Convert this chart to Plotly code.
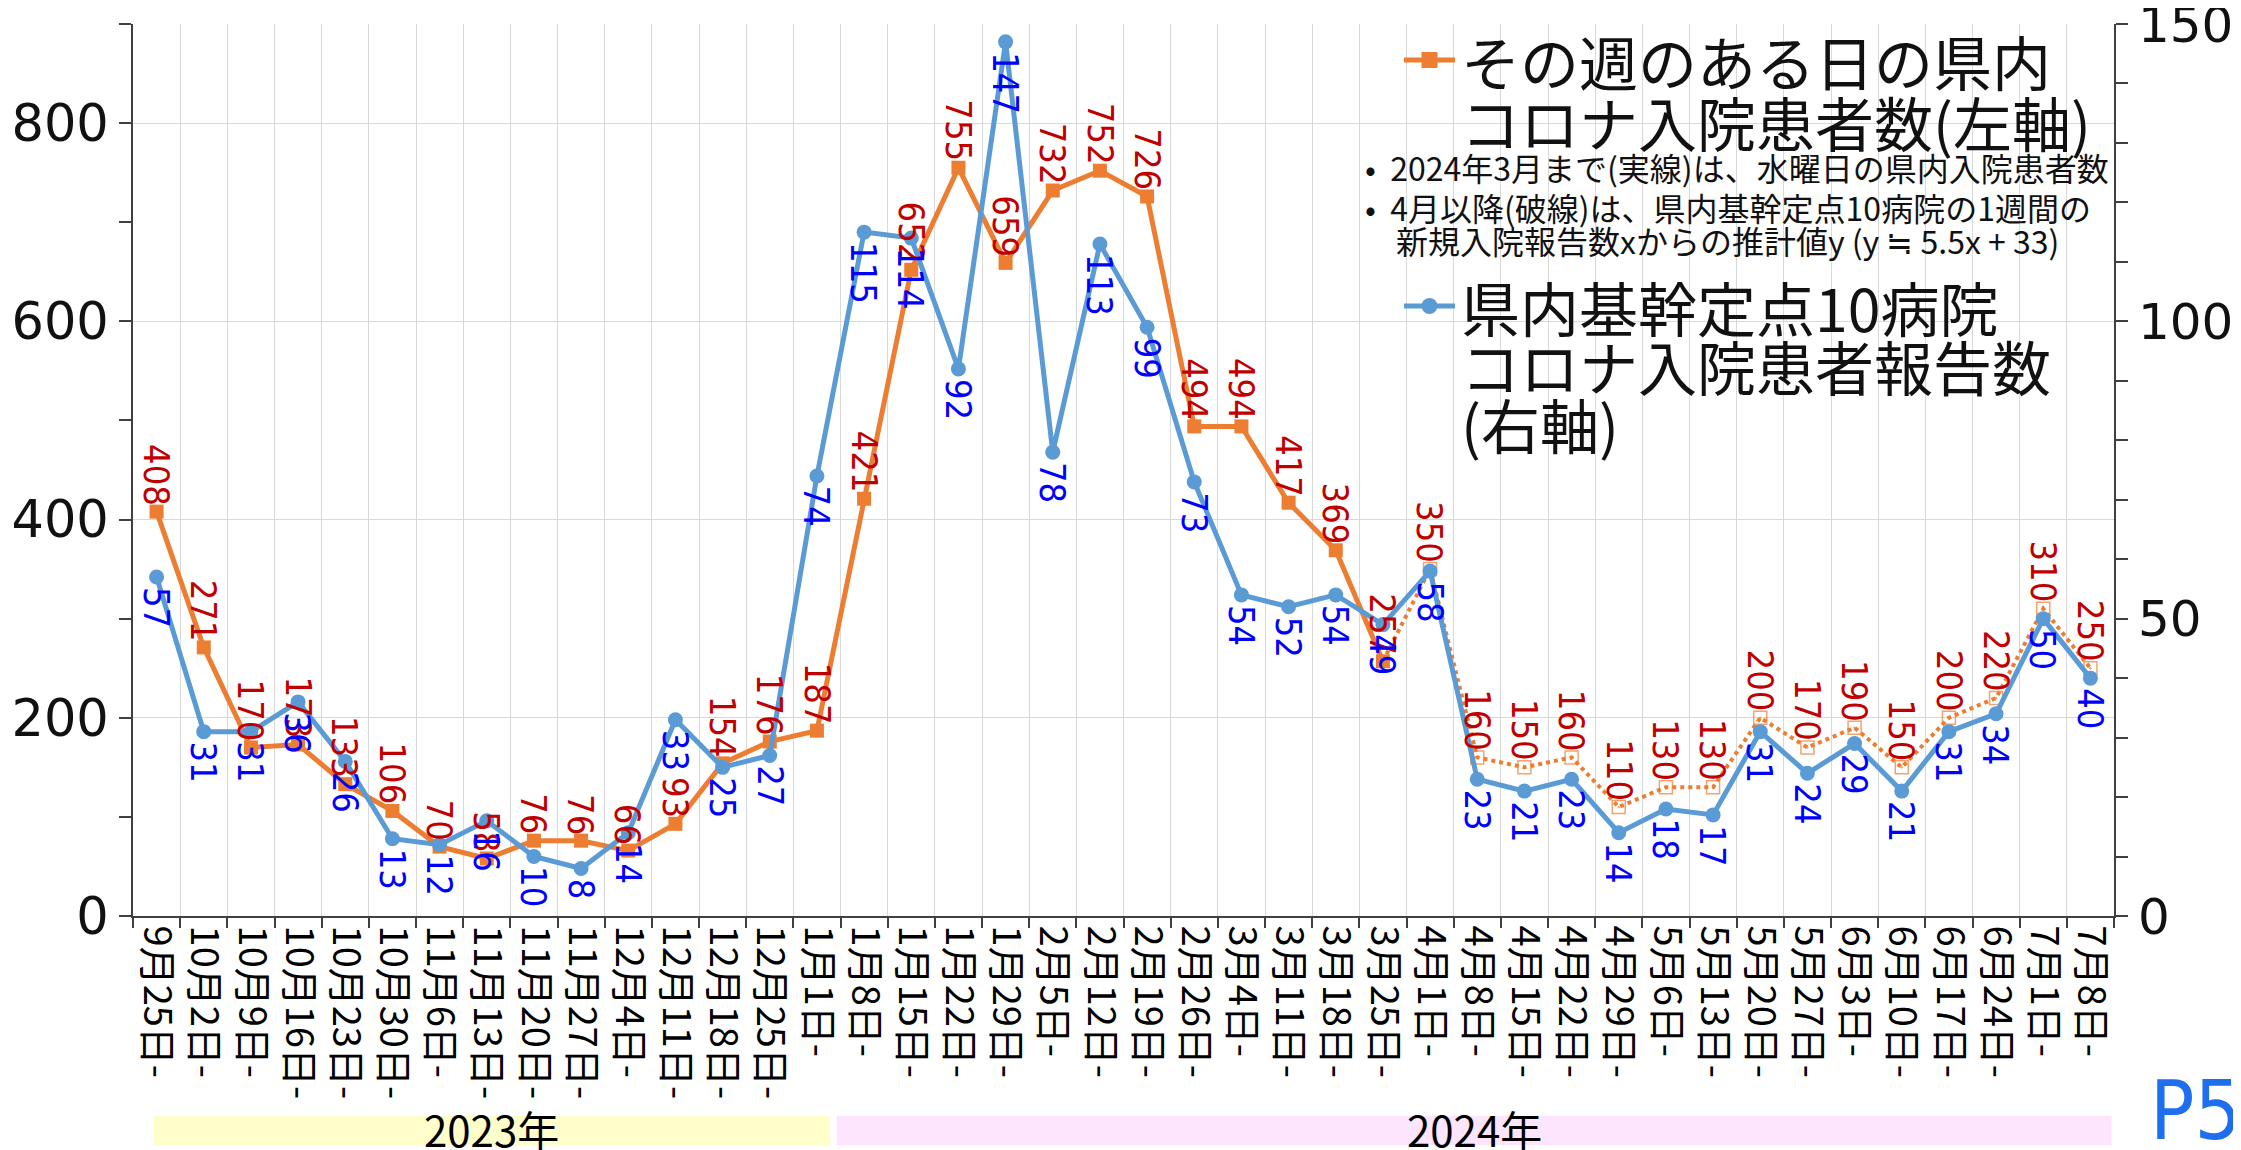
import plotly.graph_objects as go

# ---------------- data ----------------
categories = ["9月25日-", "10月2日-", "10月9日-", "10月16日-", "10月23日-", "10月30日-",
              "11月6日-", "11月13日-", "11月20日-", "11月27日-", "12月4日-", "12月11日-",
              "12月18日-", "12月25日-", "1月1日-", "1月8日-", "1月15日-", "1月22日-",
              "1月29日-", "2月5日-", "2月12日-", "2月19日-", "2月26日-", "3月4日-",
              "3月11日-", "3月18日-", "3月25日-", "4月1日-", "4月8日-", "4月15日-",
              "4月22日-", "4月29日-", "5月6日-", "5月13日-", "5月20日-", "5月27日-",
              "6月3日-", "6月10日-", "6月17日-", "6月24日-", "7月1日-", "7月8日-"]

# 県内入院患者数 (水曜日実数, ～3/25)
pref_actual = [408, 271, 170, 173, 133, 106, 70, 58, 76, 76, 66, 93, 154, 176, 187,
               421, 652, 755, 659, 732, 752, 726, 494, 494, 417, 369, 257]
# 推計値 (4/1～)
pref_estimated = [350, 160, 150, 160, 110, 130, 130, 200, 170, 190, 150, 200, 220, 310, 250]
# 基幹定点10病院 報告数 (右軸)
sentinel = [57, 31, 31, 36, 26, 13, 12, 16, 10, 8, 14, 33, 25, 27, 74, 115, 114, 92, 147,
            78, 113, 99, 73, 54, 52, 54, 49, 58, 23, 21, 23, 14, 18, 17, 31, 24, 29, 21,
            31, 34, 50, 40]

left_ticks = [0, 200, 400, 600, 800]
right_ticks = [0, 50, 100, 150]
year_labels = ["2023年", "2024年"]
legend_orange = ["その週のある日の県内", "コロナ入院患者数(左軸)"]
legend_notes = ["•  2024年3月まで(実線)は、水曜日の県内入院患者数",
                "•  4月以降(破線)は、県内基幹定点10病院の1週間の",
                "新規入院報告数xからの推計値y (y ≒ 5.5x + 33)"]
legend_blue = ["県内基幹定点10病院", "コロナ入院患者報告数", "(右軸)"]

# ---------------- styling ----------------
ORANGE = "#ED7D31"
BLUE = "#5B9BD5"
RED_LBL = "#C00000"
BLUE_LBL = "#0000FF"
AXIS = "#404040"
GRID = "#D9D9D9"
JP = "Noto Sans CJK JP"
NARROW = "Liberation Sans Narrow, DejaVu Sans Condensed, Noto Sans, sans-serif"

PAGE_W, PAGE_H = 2241, 1150
OFF = 8                       # default body margin of the html page
W, H = PAGE_W - OFF, PAGE_H - OFF
# plot area in page pixels
PX0, PX1, PY0, PY1 = 133, 2114, 24, 916
L, R, T, B = PX0 - OFF, PAGE_W - PX1, PY0 - OFF, PAGE_H - PY1
PW, PH = W - L - R, H - T - B


def fx(px):
    """page pixel x -> paper"""
    return (px - PX0) / PW


def fy(py):
    """page pixel y -> paper"""
    return (PY1 - py) / PH


n_act = len(pref_actual)
est_x = categories[n_act - 1:n_act + len(pref_estimated)]
est_y = [pref_actual[-1]] + pref_estimated

fig = go.Figure()

fig.add_trace(go.Scatter(
    x=est_x, y=est_y, mode="lines+markers", yaxis="y",
    line=dict(color=ORANGE, width=4, dash="dot"),
    marker=dict(symbol="square-open-dot", size=[0] + [13] * len(pref_estimated),
                color=ORANGE, line=dict(color=ORANGE, width=1.5)),
    showlegend=False, hoverinfo="skip"))

fig.add_trace(go.Scatter(
    x=categories[:n_act], y=pref_actual, mode="lines+markers", yaxis="y",
    line=dict(color=ORANGE, width=5),
    marker=dict(symbol="square", size=14, color=ORANGE),
    showlegend=False))

fig.add_trace(go.Scatter(
    x=categories, y=sentinel, mode="lines+markers", yaxis="y2",
    line=dict(color=BLUE, width=5),
    marker=dict(symbol="circle", size=15, color=BLUE),
    showlegend=False))

ann = []
LBL_SIZE = 36
for i, v in enumerate(pref_actual):
    ann.append(dict(x=categories[i], y=v, xref="x", yref="y", text=str(v), textangle=90,
                    showarrow=False, yanchor="bottom", xanchor="center", yshift=4,
                    font=dict(family=NARROW, size=LBL_SIZE, color=RED_LBL)))
for j, v in enumerate(pref_estimated):
    ann.append(dict(x=categories[n_act + j], y=v, xref="x", yref="y", text=str(v), textangle=90,
                    showarrow=False, yanchor="bottom", xanchor="center", yshift=4,
                    font=dict(family=NARROW, size=LBL_SIZE, color=RED_LBL)))
for i, v in enumerate(sentinel):
    ann.append(dict(x=categories[i], y=v, xref="x", yref="y2", text=str(v), textangle=90,
                    showarrow=False, yanchor="top", xanchor="center", yshift=-8,
                    font=dict(family=NARROW, size=LBL_SIZE, color=BLUE_LBL)))

# custom legend
shapes = []
leg_x0, leg_x1 = 1404, 1455
for (gy, col, sym) in [(60, ORANGE, "sq"), (306, BLUE, "ci")]:
    shapes.append(dict(type="line", xref="paper", yref="paper", x0=fx(leg_x0), x1=fx(leg_x1),
                       y0=fy(gy), y1=fy(gy), line=dict(color=col, width=5)))
    cx = (leg_x0 + leg_x1) / 2
    shapes.append(dict(type="rect" if sym == "sq" else "circle", xref="paper", yref="paper",
                       x0=fx(cx - 8), x1=fx(cx + 8), y0=fy(gy + 8), y1=fy(gy - 8),
                       fillcolor=col, line=dict(width=0)))

for k, t in enumerate(legend_orange):
    ann.append(dict(x=fx(1459), y=fy(60 + k * 61), xref="paper", yref="paper", text=t,
                    showarrow=False, xanchor="left", yanchor="middle",
                    font=dict(family=JP, size=59, color="#111111")))
note_pos = [(1363, 167), (1363, 207), (1394, 240)]
for t, (px, py) in zip(legend_notes, note_pos):
    ann.append(dict(x=fx(px), y=fy(py), xref="paper", yref="paper", text=t,
                    showarrow=False, xanchor="left", yanchor="middle",
                    font=dict(family=JP, size=32, color="#111111")))
for k, t in enumerate(legend_blue):
    ann.append(dict(x=fx(1459), y=fy(306 + k * 59), xref="paper", yref="paper", text=t,
                    showarrow=False, xanchor="left", yanchor="middle",
                    font=dict(family=JP, size=59, color="#111111")))

# year bands
bands = [(-0.07, 14.28, "#FFFFCC"), (14.42, 41.45, "#FDE6FD")]
for (x0, x1, col), lab in zip(bands, year_labels):
    shapes.append(dict(type="rect", xref="x", yref="paper", x0=x0, x1=x1,
                       y0=fy(1145), y1=fy(1116), fillcolor=col, line=dict(width=0), layer="below"))
    ann.append(dict(x=(x0 + x1) / 2, y=fy(1128), xref="x", yref="paper", text=lab,
                    showarrow=False, xanchor="center", yanchor="middle",
                    font=dict(family=JP, size=42, color="#000000")))

ann.append(dict(x=fx(2243), y=fy(1110), xref="paper", yref="paper", text="P5",
                showarrow=False, xanchor="right", yanchor="middle",
                font=dict(family=NARROW, size=82, color="#1E6FF0")))

fig.update_layout(
    template="none",
    width=W, height=H,
    margin=dict(l=L, r=R, t=T, b=B, autoexpand=False),
    paper_bgcolor="white", plot_bgcolor="white",
    showlegend=False,
    annotations=ann, shapes=shapes,
    xaxis=dict(type="category", categoryorder="array", categoryarray=categories,
               range=[-0.5, len(categories) - 0.5], tickson="boundaries",
               ticks="outside", ticklen=10, tickcolor=AXIS, tickwidth=1.5,
               showgrid=True, gridcolor=GRID, gridwidth=1,
               showline=True, linecolor=AXIS, linewidth=2, tickangle=90,
               tickfont=dict(family=JP, size=38, color="#000000"),
               automargin=False, zeroline=False),
    yaxis=dict(range=[0, 900], tickmode="array", tickvals=left_ticks,
               ticks="outside", ticklen=12, tickcolor=AXIS, tickwidth=1.5,
               minor=dict(dtick=100, tick0=0, ticks="outside", ticklen=12, tickcolor=AXIS,
                          showgrid=False),
               showgrid=True, gridcolor=GRID, gridwidth=1,
               showline=True, linecolor=AXIS, linewidth=2, zeroline=False,
               tickfont=dict(family="DejaVu Sans", size=51, color="#111111"),
               ticklabeloverflow="allow", automargin=False),
    yaxis2=dict(range=[0, 150], tickmode="array", tickvals=right_ticks, overlaying="y",
                side="right", ticks="outside", ticklen=12, tickcolor=AXIS, tickwidth=1.5,
                minor=dict(dtick=10, tick0=0, ticks="outside", ticklen=12, tickcolor=AXIS,
                           showgrid=False),
                showgrid=False, showline=True, linecolor=AXIS, linewidth=2, zeroline=False,
                tickfont=dict(family="DejaVu Sans", size=50, color="#111111"),
                ticklabeloverflow="allow", automargin=False),
)

fig.write_html("out.html")
